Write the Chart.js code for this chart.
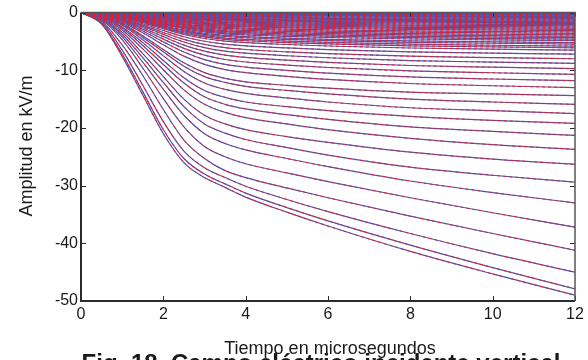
<!DOCTYPE html>
<html>
<head>
<meta charset="utf-8">
<script src="https://cdn.jsdelivr.net/npm/chart.js@4/dist/chart.umd.min.js"></script>
<style>
  html, body { margin: 0; padding: 0; width: 588px; height: 360px; overflow: hidden; background: #fff; }
  #wrap { position: relative; width: 588px; height: 360px; overflow: hidden; }
  canvas { position: absolute; left: 0; top: 0; }
  .txt { position: absolute; font-family: "Liberation Sans", Arial, sans-serif; color: #1a1a1a; white-space: nowrap; }
  #ytitle { left: -74px; top: 136px; width: 200px; text-align: center; font-size: 18px; line-height: 20px; transform: rotate(-90deg); }
  #xtitle { left: 180px; width: 300px; top: 339px; text-align: center; font-size: 18px; line-height: 18px; }
  #caption { left: 21px; width: 600px; top: 351px; text-align: center; font-size: 24px; line-height: 24px; font-weight: bold; }
</style>
</head>
<body>
<div id="wrap">
  <canvas id="c" width="588" height="360"></canvas>
  <div class="txt" id="ytitle">Amplitud en kV/m</div>
  <div class="txt" id="xtitle">Tiempo en microsegundos</div>
  <div class="txt" id="caption">Fig. 18. Campo eléctrico incidente vertical</div>
</div>
<script>
// time axis (microseconds)
const tiempo = [0, 0.5, 1, 1.5, 2, 2.5, 3, 3.5, 4, 5, 6, 8, 10, 12];
const xTicks = [0, 2, 4, 6, 8, 10, 12];
const yTicks = [-50, -40, -30, -20, -10, 0];

// field curves (kV/m), bottom to top
const c01 = [0, -2, -7.6, -14.3, -21, -26, -28.6, -30.3, -32.0, -34.6, -37.0, -41.4, -45.3, -49];
const c02 = [0, -1.9, -7.2, -13.7, -20.3, -25.3, -28.0, -29.7, -31.3, -33.8, -36.1, -40.3, -44.2, -47.9];
const c03 = [0, -1.7, -6.5, -12.6, -18.9, -24.0, -26.9, -28.6, -30.1, -32.4, -34.5, -38.3, -41.8, -45];
const c04 = [0, -1.5, -5.6, -10.9, -16.8, -22.1, -25.3, -27.4, -28.6, -30.4, -32.1, -35.3, -38.3, -41.2];
const c05 = [0, -1.3, -4.7, -9.6, -14.9, -19.8, -23.2, -25.0, -26.2, -27.8, -29.3, -32.1, -34.7, -37.2];
const c06 = [0, -1.1, -4.2, -8.6, -13.3, -17.8, -21, -22.7, -23.8, -25.3, -26.7, -29.2, -31.2, -33];
const c07 = [0, -1.0, -3.8, -7.8, -12.1, -16.3, -19.3, -20.9, -22.0, -23.4, -24.7, -26.8, -28.2, -29.4];
const c08 = [0, -0.9, -3.4, -7.1, -11.1, -15, -17.8, -19.3, -20.3, -21.5, -22.5, -24.2, -25.4, -26.3];
const c09 = [0, -0.8, -3.0, -6.3, -9.9, -13.4, -15.9, -17.3, -18.2, -19.3, -20.3, -21.8, -22.9, -23.7];
const c10 = [0, -0.7, -2.7, -5.7, -9, -12.2, -14.6, -15.9, -16.7, -17.7, -18.5, -19.8, -20.6, -21.3];
const c11 = [0, -0.65, -2.5, -5.2, -8.3, -11.3, -13.5, -14.7, -15.5, -16.3, -17.0, -18.0, -18.7, -19.2];
const c12 = [0, -0.6, -2.2, -4.7, -7.5, -10.2, -12.2, -13.3, -14.0, -14.8, -15.5, -16.5, -17.0, -17.5];
const c13 = [0, -0.5, -2.0, -4.3, -6.8, -9.3, -11.1, -12.1, -12.8, -13.5, -14.1, -15.0, -15.5, -15.9];
const c14 = [0, -0.5, -1.9, -4.0, -6.4, -8.7, -10.4, -11.4, -12.0, -12.6, -13.1, -13.8, -14.1, -14.4];
const c15 = [0, -0.46, -1.69, -3.51, -5.59, -7.54, -8.97, -9.88, -10.4, -11.05, -11.57, -12.29, -12.68, -13.0];
const c16 = [0, -0.41, -1.53, -3.19, -5.07, -6.84, -8.14, -8.97, -9.44, -10.03, -10.5, -11.15, -11.51, -11.8];
const c17 = [0, -0.37, -1.39, -2.89, -4.6, -6.21, -7.38, -8.13, -8.56, -9.1, -9.52, -10.11, -10.43, -10.7];
const c18 = [0, -0.34, -1.26, -2.62, -4.17, -5.63, -6.69, -7.37, -7.76, -8.25, -8.63, -9.17, -9.46, -9.7];
const c19 = [0, -0.31, -1.14, -2.38, -3.78, -5.1, -6.07, -6.69, -7.04, -7.48, -7.83, -8.32, -8.58, -8.8];
const c20 = [0, -0.28, -1.04, -2.16, -3.44, -4.64, -5.52, -6.08, -6.4, -6.8, -7.12, -7.56, -7.8, -8.0];
const c21 = [0, -0.25, -0.94, -1.94, -3.1, -4.18, -4.97, -5.47, -5.76, -6.12, -6.41, -6.8, -7.02, -7.2];
const c22 = [0, -0.23, -0.85, -1.76, -2.8, -3.77, -4.49, -4.94, -5.2, -5.53, -5.79, -6.14, -6.34, -6.5];
const c23 = [0, -0.21, -0.79, -1.65, -2.62, -3.54, -4.21, -4.64, -4.88, -5.19, -5.43, -5.76, -5.95, -6.1];
const c24 = [0, -0.2, -0.75, -1.57, -2.49, -3.36, -4.0, -4.41, -4.64, -4.93, -5.16, -5.48, -5.66, -5.8];
const c25 = [0, -0.19, -0.71, -1.47, -2.34, -3.16, -3.76, -4.14, -4.36, -4.63, -4.85, -5.15, -5.31, -5.45];
const c26 = [0, -0.18, -0.68, -1.4, -2.24, -3.02, -3.59, -3.95, -4.16, -4.42, -4.63, -4.91, -5.07, -5.2];
const c27 = [0, -0.17, -0.63, -1.31, -2.09, -2.81, -3.35, -3.69, -3.88, -4.12, -4.32, -4.58, -4.73, -4.85];
const c28 = [0, -0.16, -0.6, -1.24, -1.98, -2.67, -3.17, -3.5, -3.68, -3.91, -4.09, -4.35, -4.49, -4.6];
const c29 = [0, -0.15, -0.57, -1.17, -1.87, -2.52, -3.0, -3.31, -3.48, -3.7, -3.87, -4.11, -4.24, -4.35];
const c30 = [0, -0.14, -0.53, -1.11, -1.76, -2.38, -2.83, -3.12, -3.28, -3.49, -3.65, -3.87, -4.0, -4.1];
const c31 = [0, -0.13, -0.5, -1.04, -1.66, -2.23, -2.66, -2.93, -3.08, -3.27, -3.43, -3.64, -3.75, -3.85];
const c32 = [0, -0.13, -0.47, -0.97, -1.55, -2.09, -2.48, -2.74, -2.88, -3.06, -3.2, -3.4, -3.51, -3.6];
const c33 = [0, -0.12, -0.44, -0.9, -1.44, -1.94, -2.31, -2.55, -2.68, -2.85, -2.98, -3.17, -3.27, -3.35];
const c34 = [0, -0.11, -0.4, -0.84, -1.33, -1.8, -2.14, -2.36, -2.48, -2.64, -2.76, -2.93, -3.02, -3.1];
const c35 = [0, -0.1, -0.38, -0.78, -1.25, -1.68, -2.0, -2.2, -2.32, -2.47, -2.58, -2.74, -2.83, -2.9];
const c36 = [0, -0.09, -0.35, -0.73, -1.16, -1.57, -1.86, -2.05, -2.16, -2.3, -2.4, -2.55, -2.63, -2.7];
const c37 = [0, -0.09, -0.33, -0.68, -1.08, -1.45, -1.73, -1.9, -2.0, -2.13, -2.23, -2.36, -2.44, -2.5];
const c38 = [0, -0.08, -0.3, -0.62, -0.99, -1.33, -1.59, -1.75, -1.84, -1.96, -2.05, -2.17, -2.24, -2.3];
const c39 = [0, -0.07, -0.27, -0.57, -0.9, -1.22, -1.45, -1.6, -1.68, -1.79, -1.87, -1.98, -2.05, -2.1];
const c40 = [0, -0.07, -0.25, -0.51, -0.82, -1.1, -1.31, -1.44, -1.52, -1.62, -1.69, -1.8, -1.85, -1.9];
const c41 = [0, -0.06, -0.23, -0.47, -0.75, -1.02, -1.21, -1.33, -1.4, -1.49, -1.56, -1.65, -1.71, -1.75];
const c42 = [0, -0.06, -0.21, -0.43, -0.69, -0.93, -1.1, -1.22, -1.28, -1.36, -1.42, -1.51, -1.56, -1.6];
const c43 = [0, -0.05, -0.19, -0.39, -0.62, -0.84, -1.0, -1.1, -1.16, -1.23, -1.29, -1.37, -1.41, -1.45];
const c44 = [0, -0.05, -0.17, -0.35, -0.56, -0.75, -0.9, -0.99, -1.04, -1.11, -1.16, -1.23, -1.27, -1.3];
const c45 = [0, -0.04, -0.15, -0.31, -0.49, -0.67, -0.79, -0.87, -0.92, -0.98, -1.02, -1.09, -1.12, -1.15];
const c46 = [0, -0.04, -0.13, -0.27, -0.43, -0.58, -0.69, -0.76, -0.8, -0.85, -0.89, -0.95, -0.98, -1.0];
const c47 = [0, -0.03, -0.11, -0.23, -0.37, -0.49, -0.59, -0.65, -0.68, -0.72, -0.76, -0.8, -0.83, -0.85];
const c48 = [0, -0.02, -0.09, -0.19, -0.3, -0.41, -0.48, -0.53, -0.56, -0.6, -0.62, -0.66, -0.68, -0.7];
const c49 = [0, -0.02, -0.07, -0.15, -0.25, -0.33, -0.39, -0.43, -0.46, -0.48, -0.51, -0.54, -0.56, -0.57];
const c50 = [0, -0.02, -0.06, -0.12, -0.19, -0.26, -0.31, -0.34, -0.36, -0.38, -0.4, -0.43, -0.44, -0.45];
const c51 = [0, -0.01, -0.05, -0.09, -0.15, -0.2, -0.24, -0.27, -0.28, -0.3, -0.31, -0.33, -0.34, -0.35];
const c52 = [0, -0.01, -0.03, -0.07, -0.11, -0.15, -0.17, -0.19, -0.2, -0.21, -0.22, -0.24, -0.24, -0.25];
const c53 = [0, -0.01, -0.02, -0.05, -0.07, -0.1, -0.12, -0.13, -0.14, -0.14, -0.15, -0.16, -0.17, -0.17];
const c54 = [0, 0, -0.01, -0.03, -0.04, -0.06, -0.07, -0.08, -0.08, -0.09, -0.09, -0.09, -0.1, -0.1];

const curves = [c01, c02, c03, c04, c05, c06, c07, c08, c09, c10, c11, c12, c13, c14, c15, c16, c17, c18,
  c19, c20, c21, c22, c23, c24, c25, c26, c27, c28, c29, c30, c31, c32, c33, c34, c35, c36, c37, c38, c39,
  c40, c41, c42, c43, c44, c45, c46, c47, c48, c49, c50, c51, c52, c53, c54];

const BLUE = 'rgb(80,85,175)';
const RED = 'rgb(232,30,40)';

const datasets = [];
curves.forEach((vals) => {
  const pts = tiempo.map((t, j) => ({ x: t, y: vals[j] }));
  datasets.push({ data: pts, borderColor: RED, borderWidth: 1, borderDash: [3, 3], pointRadius: 0,
    cubicInterpolationMode: 'monotone', fill: false, order: 0 });
  datasets.push({ data: pts, borderColor: BLUE, borderWidth: 1.2, pointRadius: 0,
    cubicInterpolationMode: 'monotone', fill: false, order: 1 });
});

const framePlugin = {
  id: 'frame',
  afterDatasetsDraw(chart) {
    const { ctx, chartArea: a, scales } = chart;
    const x = scales.x, y = scales.y;
    ctx.save();
    ctx.strokeStyle = '#2b2b2b';
    ctx.lineWidth = 1;
    ctx.beginPath();
    xTicks.forEach(v => {
      const px = Math.round(x.getPixelForValue(v)) + 0.5;
      ctx.moveTo(px, a.bottom); ctx.lineTo(px, a.bottom - 5);
      ctx.moveTo(px, a.top); ctx.lineTo(px, a.top + 4);
    });
    yTicks.forEach(v => {
      const py = Math.round(y.getPixelForValue(v)) + 0.5;
      ctx.moveTo(a.left, py); ctx.lineTo(a.left + 5, py);
      ctx.moveTo(a.right, py); ctx.lineTo(a.right - 5, py);
    });
    ctx.stroke();
    ctx.lineWidth = 2;
    ctx.strokeStyle = '#2b2b2b';
    ctx.beginPath();
    ctx.moveTo(a.left, a.top); ctx.lineTo(a.left, a.bottom); ctx.lineTo(a.right, a.bottom);
    ctx.stroke();
    ctx.strokeStyle = '#555';
    ctx.lineWidth = 1.5;
    ctx.beginPath();
    ctx.moveTo(a.left, a.top); ctx.lineTo(a.right, a.top); ctx.lineTo(a.right, a.bottom);
    ctx.stroke();
    ctx.restore();
  }
};

new Chart(document.getElementById('c'), {
  type: 'line',
  data: { datasets },
  plugins: [framePlugin],
  options: {
    responsive: false,
    animation: false,
    devicePixelRatio: 1,
    events: [],
    layout: { padding: { top: 12, right: 13, left: 0, bottom: 0 } },
    plugins: { legend: { display: false }, tooltip: { enabled: false }, title: { display: false } },
    scales: {
      x: {
        type: 'linear', min: 0, max: 12,
        afterBuildTicks: s => { s.ticks = xTicks.map(v => ({ value: v })); },
        afterFit: s => { s.height = 59; },
        grid: { display: false, drawTicks: false },
        border: { display: false },
        ticks: { padding: 4, color: '#1a1a1a', font: { family: 'Liberation Sans, Arial', size: 16 }, maxRotation: 0 }
      },
      y: {
        type: 'linear', min: -50, max: 0,
        afterBuildTicks: s => { s.ticks = yTicks.map(v => ({ value: v })); },
        afterFit: s => { s.width = 81; },
        grid: { display: false, drawTicks: false },
        border: { display: false },
        ticks: { padding: 3, color: '#1a1a1a', font: { family: 'Liberation Sans, Arial', size: 16 } }
      }
    }
  }
});
</script>
</body>
</html>
